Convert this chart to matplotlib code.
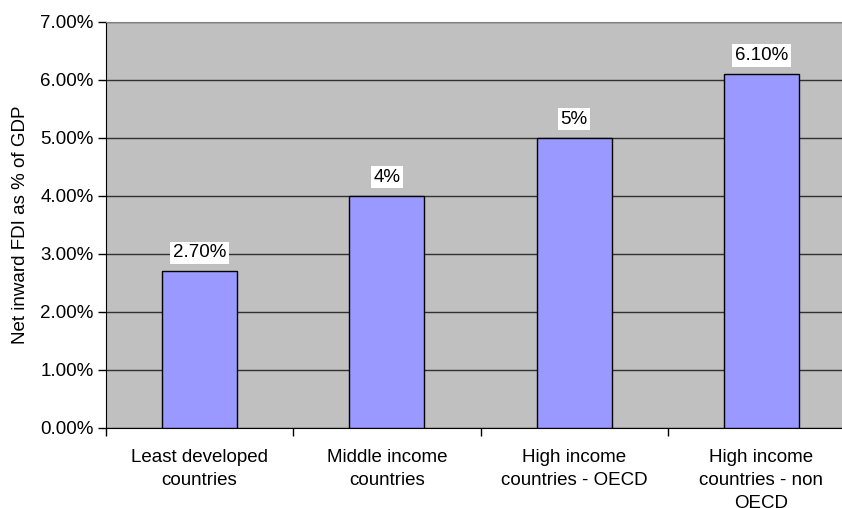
import matplotlib.pyplot as plt
from matplotlib.ticker import FuncFormatter, FixedLocator

categories = ['Least developed\ncountries', 'Middle income\ncountries',
              'High income\ncountries - OECD', 'High income\ncountries - non\nOECD']
values = [2.7, 4.0, 5.0, 6.1]
value_labels = ['2.70%', '4%', '5%', '6.10%']

plt.rcParams['font.family'] = ['Liberation Sans', 'DejaVu Sans']

fig = plt.figure(figsize=(8.42, 5.08), dpi=100)
ax = fig.add_axes([106 / 842, 1 - 428 / 508, 749 / 842, 406 / 508])
ax.set_facecolor('#c0c0c0')

x = list(range(len(categories)))
bars = ax.bar(x, values, width=0.4, color='#9999ff', edgecolor='black', linewidth=1, zorder=3)

for b, lab in zip(bars, value_labels):
    ax.annotate(lab, (b.get_x() + b.get_width() / 2, b.get_height()),
                xytext=(0, 13.5), textcoords='offset points', ha='center', va='center',
                fontsize=13.5, zorder=4,
                bbox=dict(boxstyle='square,pad=0.14', fc='white', ec='none'))

ax.set_xlim(-0.5, len(categories) - 0.5)
ax.set_ylim(0, 7)
ax.set_yticks(range(0, 8))
ax.yaxis.set_major_formatter(FuncFormatter(lambda v, p: '%.2f%%' % v))
ax.yaxis.grid(True, color='#303030', linewidth=1)
ax.set_axisbelow(True)

ax.xaxis.set_major_locator(FixedLocator([i - 0.5 for i in range(len(categories) + 1)]))
ax.set_xticklabels([])
ax.set_xticks(x, minor=True)
ax.set_xticklabels(categories, minor=True, fontsize=13.5, linespacing=1.45)
ax.tick_params(axis='x', which='minor', length=0, pad=15)
ax.tick_params(axis='x', which='major', length=6, width=1, direction='out')
ax.tick_params(axis='y', length=6, width=1, labelsize=13.5, pad=3)

ax.spines['right'].set_visible(False)
ax.spines['top'].set_color('#808080')
ax.spines['left'].set_color('black')
ax.spines['bottom'].set_color('black')

ax.set_ylabel('Net inward FDI as % of GDP', fontsize=13.5, labelpad=8)

fig.savefig('out.png', dpi=100)
